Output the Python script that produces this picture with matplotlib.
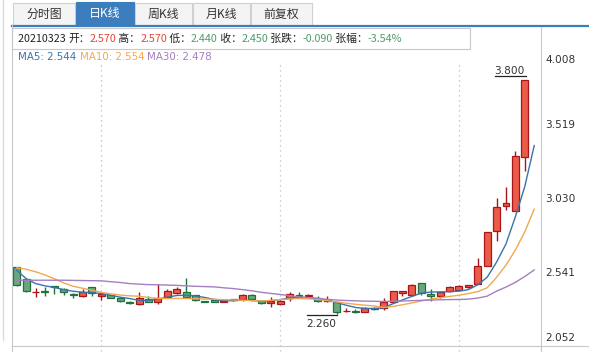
"""
Daily K-line chart (candlesticks with MA5 / MA10 / MA30) in a quote-panel style.
"""

import numpy as np
import matplotlib
matplotlib.use("Agg")
import matplotlib.pyplot as plt
from matplotlib.patches import Rectangle
from matplotlib.lines import Line2D
from matplotlib.transforms import Affine2D, offset_copy

plt.rcParams["font.family"] = ["Noto Sans CJK SC", "DejaVu Sans"]

# ---- data ------------------------------------------------------------------
opens = [2.570, 2.485, 2.400, 2.405, 2.441, 2.425, 2.388, 2.378, 2.436, 2.376,
         2.385, 2.361, 2.339, 2.326, 2.358, 2.339, 2.370, 2.396, 2.405, 2.381,
         2.343, 2.347, 2.339, 2.348, 2.357, 2.381, 2.343, 2.332, 2.323, 2.365,
         2.383, 2.374, 2.365, 2.341, 2.337, 2.274, 2.279, 2.273, 2.299, 2.295,
         2.337, 2.394, 2.381, 2.463, 2.387, 2.378, 2.409, 2.418, 2.436, 2.454,
         2.573, 2.805, 2.972, 2.940, 3.292]
highs = [2.570, 2.485, 2.430, 2.432, 2.443, 2.430, 2.398, 2.423, 2.436, 2.403,
         2.385, 2.361, 2.343, 2.401, 2.374, 2.458, 2.425, 2.432, 2.498, 2.385,
         2.345, 2.349, 2.347, 2.359, 2.388, 2.386, 2.352, 2.370, 2.352, 2.401,
         2.401, 2.388, 2.374, 2.379, 2.337, 2.297, 2.292, 2.304, 2.304, 2.360,
         2.407, 2.407, 2.458, 2.463, 2.425, 2.401, 2.445, 2.451, 2.451, 2.624,
         2.796, 3.021, 3.098, 3.335, 3.800]
lows = [2.440, 2.400, 2.370, 2.378, 2.388, 2.383, 2.365, 2.372, 2.379, 2.352,
        2.360, 2.336, 2.321, 2.317, 2.335, 2.323, 2.366, 2.387, 2.363, 2.341,
        2.335, 2.335, 2.337, 2.346, 2.343, 2.343, 2.321, 2.304, 2.320, 2.343,
        2.363, 2.372, 2.337, 2.334, 2.260, 2.267, 2.265, 2.268, 2.280, 2.285,
        2.330, 2.379, 2.376, 2.381, 2.341, 2.363, 2.403, 2.414, 2.429, 2.454,
        2.573, 2.741, 2.944, 2.940, 3.204]
closes = [2.450, 2.407, 2.405, 2.403, 2.433, 2.401, 2.382, 2.405, 2.398, 2.387,
          2.365, 2.341, 2.330, 2.363, 2.337, 2.361, 2.407, 2.420, 2.370, 2.352,
          2.337, 2.337, 2.345, 2.357, 2.383, 2.354, 2.330, 2.343, 2.343, 2.388,
          2.374, 2.385, 2.341, 2.348, 2.270, 2.279, 2.270, 2.297, 2.290, 2.339,
          2.407, 2.407, 2.447, 2.396, 2.378, 2.401, 2.436, 2.445, 2.447, 2.573,
          2.796, 2.966, 2.990, 3.300, 3.800]

ma5 = [2.546, 2.491, 2.458, 2.443, 2.432, 2.418, 2.407, 2.401, 2.398, 2.392,
       2.381, 2.368, 2.359, 2.347, 2.348, 2.355, 2.368, 2.379, 2.381, 2.376,
       2.366, 2.353, 2.344, 2.345, 2.348, 2.347, 2.341, 2.345, 2.352, 2.362,
       2.366, 2.365, 2.358, 2.348, 2.333, 2.315, 2.300, 2.294, 2.293, 2.298,
       2.325, 2.350, 2.373, 2.395, 2.402, 2.403, 2.404, 2.408, 2.418, 2.450,
       2.500, 2.600, 2.720, 2.900, 3.100, 3.370]
ma10 = [2.562, 2.553, 2.536, 2.515, 2.490, 2.462, 2.440, 2.427, 2.414, 2.400,
        2.390, 2.382, 2.377, 2.374, 2.366, 2.360, 2.358, 2.360, 2.359, 2.358,
        2.356, 2.354, 2.352, 2.350, 2.348, 2.345, 2.343, 2.347, 2.352, 2.356,
        2.359, 2.357, 2.354, 2.345, 2.337, 2.328, 2.321, 2.315, 2.310, 2.300,
        2.307, 2.318, 2.330, 2.343, 2.355, 2.365, 2.373, 2.381, 2.392, 2.405,
        2.430, 2.500, 2.580, 2.680, 2.800, 2.950]
ma30 = [2.480, 2.480, 2.480, 2.480, 2.480, 2.480, 2.479, 2.478, 2.477, 2.476,
        2.470, 2.465, 2.458, 2.454, 2.451, 2.450, 2.448, 2.446, 2.443, 2.440,
        2.438, 2.436, 2.430, 2.425, 2.418, 2.410, 2.400, 2.393, 2.386, 2.378,
        2.370, 2.365, 2.360, 2.354, 2.349, 2.346, 2.344, 2.342, 2.341, 2.340,
        2.341, 2.343, 2.345, 2.347, 2.349, 2.351, 2.352, 2.353, 2.355, 2.362,
        2.375, 2.408, 2.435, 2.466, 2.505, 2.548]

y_ticks = [4.008, 3.519, 3.030, 2.541, 2.052]
grid_days = [9, 28, 47]
tabs = ["分时图", "日K线", "周K线", "月K线", "前复权"]
active_tab = 1

info_date = "20210323"
info_fields = [("开", "2.570", "up"), ("高", "2.570", "up"), ("低", "2.440", "down"),
               ("收", "2.450", "down"), ("张跌", "-0.090", "down"),
               ("张幅", "-3.54%", "down")]
ma_labels = [("MA5", "2.544"), ("MA10", "2.554"), ("MA30", "2.478")]

# ---- colours ----------------------------------------------------------------
UP_FILL, UP_EDGE = "#ec5a48", "#a8161a"
DN_FILL, DN_EDGE = "#6aa77c", "#1f7140"
MA_COLORS = ["#3b73ad", "#f0a94f", "#a57fbf"]
TXT_UP, TXT_DN = "#e0463b", "#4f9c6c"
FRAME = "#c8c8c8"
TAB_BLUE = "#3c7dbd"

W, H = 589, 352
fig = plt.figure(figsize=(W / 100, H / 100), dpi=100)
fig.patch.set_facecolor("white")
# pixel coordinates, origin top-left
px = Affine2D().scale(1 / W, -1 / H).translate(0, 1) + fig.transFigure


def rect(x0, y0, x1, y1, **kw):
    fig.add_artist(Rectangle((x0, y0), x1 - x0, y1 - y0, transform=px, **kw))


def line(xs, ys, **kw):
    fig.add_artist(Line2D(xs, ys, transform=px, **kw))


# ---- tab bar ----------------------------------------------------------------
line([2.5, 2.5], [0, 340], color="#dcdcdc", lw=1)
tab_x = [13, 76, 135, 193, 251, 313]
for k, name in enumerate(tabs):
    x0, x1 = tab_x[k], tab_x[k + 1] - 1
    if k == active_tab:
        rect(x0, 2, x1, 25, facecolor=TAB_BLUE, edgecolor=TAB_BLUE, lw=0.8)
        col = "white"
    else:
        rect(x0, 3, x1, 25, facecolor="#f4f4f4", edgecolor="#d0d0d0", lw=0.8)
        col = "#333333"
    fig.text((x0 + x1) / 2 / W, 1 - 14 / H, name, ha="center", va="center",
             fontsize=8.6, color=col)
line([12, W], [25.5, 25.5], color=TAB_BLUE, lw=1.6)

# ---- info box ---------------------------------------------------------------
rect(12, 27.5, 470, 49, facecolor="white", edgecolor=FRAME, lw=0.8)
line([541, 541], [27, H], color=FRAME, lw=0.8)
line([12, 12], [25, H], color=FRAME, lw=0.8)
line([12, W], [345.5, 345.5], color=FRAME, lw=0.8)

renderer = fig.canvas.get_renderer()


def run_text(x, y, parts, size, family=None):
    for s, c in parts:
        t = fig.text(x / W, 1 - y / H, s, ha="left", va="center",
                     fontsize=size, color=c)
        if family:
            t.set_family(family)
        x += t.get_window_extent(renderer).width
    return x


parts = [(info_date + " ", "#222222")]
for k, (lab, val, d) in enumerate(info_fields):
    parts.append(((" " if k else "") + lab + "：", "#222222"))
    parts.append((val, TXT_UP if d == "up" else TXT_DN))
run_text(18, 38.5, parts, 7.75)

ma_parts = []
for (lab, val), c in zip(ma_labels, MA_COLORS):
    ma_parts.append((lab + ": " + val + " ", c))
run_text(18, 57.5, ma_parts, 7.4, family="DejaVu Sans")

# ---- price axes -------------------------------------------------------------
ax = fig.add_axes([12 / W, 1 - 345 / H, (541 - 12) / W, (345 - 49) / H])
ax.set_xlim(-0.5, 55.72)
ax.set_ylim(y_ticks[-1], y_ticks[0])
for s in ax.spines.values():
    s.set_visible(False)
ax.set_xticks([])
ax.set_yticks([])
ax.patch.set_alpha(0)

for g in grid_days:
    ax.axvline(g, ymin=-0.02, ymax=0.95, color="#bdbdbd", lw=0.9,
               linestyle=(0, (1, 3)), clip_on=False, zorder=0)

n = len(opens)
xs = np.arange(n)
o = np.array(opens)
c = np.array(closes)
up = c >= o
fills = np.where(up, UP_FILL, DN_FILL)
edges = np.where(up, UP_EDGE, DN_EDGE)
ax.vlines(xs, lows, highs, colors=edges, lw=1.0, zorder=2)
body_lo = np.minimum(o, c)
body_h = np.maximum(np.abs(c - o), 0.004)
ax.bar(xs, body_h, bottom=body_lo, width=0.74, color=fills,
       edgecolor=edges, linewidth=0.9, zorder=3)

ma_x = np.arange(len(ma5))
for series, col in zip([ma5, ma10, ma30], MA_COLORS):
    ax.plot(ma_x, series, color=col, lw=1.0, zorder=4)

# right-hand price labels
label_shift = [-11, -2, -2, -2, 7]
for v, dy in zip(y_ticks, label_shift):
    tr = offset_copy(ax.get_yaxis_transform(), fig=fig, x=3, y=dy * 0.72,
                     units="points")
    ax.text(1.0, v, f"{v:.3f}", transform=tr, ha="left", va="center",
            fontsize=7.6, color="#333333", family="DejaVu Sans", clip_on=False)

# max / min markers
i_hi = int(np.argmax(highs))
i_lo = int(np.argmin(lows))
ax.annotate(f"{highs[i_hi]:.3f}", xy=(i_hi, highs[i_hi]), xytext=(0, 3),
            textcoords="offset points", ha="right", va="bottom",
            fontsize=7.6, color="#333333", family="DejaVu Sans")
hi_y = highs[i_hi] + 4 / 151
ax.plot([i_hi - 3.2, i_hi + 0.1], [hi_y, hi_y], color="#222222", lw=0.9,
        zorder=5)
lo_y = lows[i_lo] - 1.5 / 151
ax.plot([i_lo - 3.1, i_lo], [lo_y, lo_y], color="#222222", lw=0.9, zorder=5)
ax.annotate(f"{lows[i_lo]:.3f}", xy=(i_lo, lo_y), xytext=(0, -3),
            textcoords="offset points", ha="right", va="top",
            fontsize=7.6, color="#333333", family="DejaVu Sans")

fig.savefig("out.png", dpi=100)
